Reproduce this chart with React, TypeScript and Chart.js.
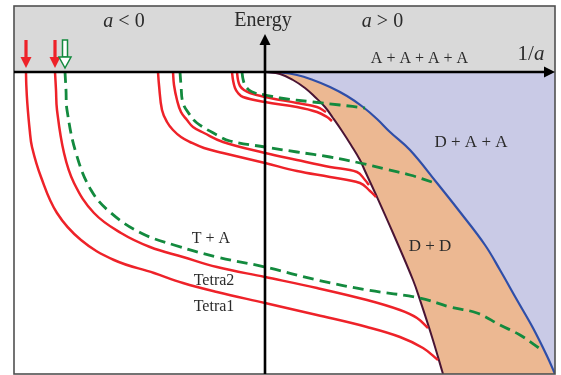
import { useEffect, useRef } from "react";
import { Chart, registerables } from "chart.js";

Chart.register(...registerables);

// ---- axis ranges (x = 1/a, y = energy; arbitrary units) ----
const X_MIN = -25.1;
const X_MAX = 29.0;
const Y_MIN = -30.2;
const Y_MAX = 6.6;
const ENERGY_ARROW_TIP = 3.8;

// ---- curves: [1/a, energy] ----
const tetra1 = [[-23.9,0],[-23.87,-1.3],[-23.77,-3.1],[-23.53,-5.8],[-23.3,-7.5],[-22.4,-10.5],[-20.8,-14.1],[-18.4,-16.8],[-15.1,-18.8],[-11.1,-20.1],[-8.2,-21.1],[-4.8,-22.0],[0,-23.1],[5.2,-24.3],[10.2,-25.5],[13.5,-26.5],[15.8,-27.6],[17.3,-28.8]];
const tetra2 = [[-21.0,0],[-20.9,-1.8],[-20.8,-3.8],[-20.1,-8.1],[-19.1,-11.1],[-17.1,-14.1],[-14.4,-16.1],[-11.5,-17.5],[-8.2,-18.5],[-4.8,-19.5],[0,-20.5],[5.2,-21.6],[10.2,-22.8],[13.5,-23.8],[15.2,-24.6],[16.3,-25.6]];
const trimer1 = [[-20.0,0],[-19.9,-1.8],[-19.8,-3.8],[-18.9,-8.1],[-17.4,-11.8],[-15.4,-14.1],[-12.4,-16.1],[-9.1,-17.3],[-4.8,-18.5],[0,-19.5],[5.2,-20.8],[10.2,-21.8],[15.5,-22.6],[18.5,-23.5],[21.2,-24.1],[23.5,-25.3],[25.5,-26.3],[27.4,-27.6]];

const tetra3 = [[-10.7,0],[-10.6,-1.3],[-10.3,-3.8],[-9.8,-5.0],[-9.2,-5.8],[-8.4,-6.5],[-7.5,-7.0],[-6.1,-7.6],[-4.2,-8.1],[0,-9.1],[3.2,-9.9],[6.5,-10.5],[9.5,-11.1],[10.5,-11.9],[11.1,-12.5]];
const tetra4 = [[-9.2,0],[-9.1,-1.3],[-8.8,-2.8],[-8.4,-4.0],[-7.8,-4.8],[-7.2,-5.5],[-6.1,-6.1],[-4.2,-7.0],[0,-8.1],[3.2,-8.8],[6.5,-9.5],[9.2,-10.0],[10.0,-10.8],[10.4,-11.3]];
const trimer2 = [[-8.5,0],[-8.4,-1.3],[-8.2,-3.1],[-7.5,-4.3],[-6.8,-5.1],[-4.8,-6.3],[-3.5,-6.9],[0,-7.5],[3.2,-8.0],[6.5,-8.5],[9.5,-9.1],[12.0,-9.7],[14.5,-10.3],[17.0,-11.1]];

const tetra5 = [[-3.3,0],[-3.2,-0.8],[-3.0,-1.6],[-2.7,-2.1],[-2.2,-2.5],[0,-3.0],[3.2,-3.5],[5.2,-4.0],[6.2,-4.5],[6.7,-4.9]];
const tetra6 = [[-2.8,0],[-2.7,-0.8],[-2.5,-1.4],[-2.1,-1.8],[-1.5,-2.1],[0,-2.5],[3.2,-3.1],[5.2,-3.5],[6.1,-4.0]];
const trimer3 = [[-2.3,0],[-2.2,-0.7],[-2.0,-1.3],[-1.6,-1.8],[-1.0,-2.1],[0,-2.3],[1.5,-2.6],[4.8,-3.0],[7.5,-3.3],[10.0,-3.6]];

// thresholds
const dimerDimer = [[0,0],[1.5,-0.2],[2.8,-0.8],[4.0,-1.6],[5.0,-2.5],[6.0,-3.5],[6.8,-4.6],[7.7,-5.9],[8.6,-7.3],[9.5,-8.8],[10.0,-9.9],[11.2,-12.5],[12.8,-16.1],[14.8,-20.8],[15.5,-22.8],[16.7,-26.5],[17.8,-30.2]];
const dimerAtomAtom = [[0,0],[1.5,-0.05],[3.2,-0.3],[4.8,-0.8],[6.5,-1.5],[8.2,-2.4],[9.8,-3.5],[11.2,-4.7],[12.5,-6.0],[14.5,-7.8],[17.2,-11.1],[19.5,-14.0],[22.0,-17.3],[23.5,-19.8],[25.2,-22.8],[26.8,-25.6],[28.2,-28.4],[29.0,-30.2]];

// markers (threshold arrows on the a<0 side), at the x where curves start
const redMarkers = [tetra1[0][0], tetra2[0][0]];
const greenMarkers = [trimer1[0][0]];
const MARK_TOP = 3.2, MARK_HEAD = 1.5, MARK_TIP = 0.4;

// labels ("_" marks the next character as italic)
const labelText = ["_a < 0", "Energy", "_a > 0", "A + A + A + A", "1/_a", "D + A + A", "D + D", "T + A", "Tetra2", "Tetra1"];
const labelX = [-14.1, -0.2, 11.75, 15.45, 26.6, 20.6, 16.5, -5.4, -5.1, -5.1];
const labelY = [4.5, 4.6, 4.5, 0.9, 1.2, -7.5, -17.9, -17.1, -21.3, -23.9];
const labelSize = [20, 20, 20, 16, 21, 17, 17, 16, 16, 16];

const RED = "#ee2229";
const GREEN = "#138a3e";
const DARK = "#4a1434";
const BLUE = "#2f4ea8";
const ORANGE = "#ecb892";
const PURPLE = "#c9cae6";
const GRAY = "#d9d9d9";
const TEXT = "#2b2b2b";
const FONT = '"Liberation Serif", "Times New Roman", serif';

const toPts = (a: number[][]) => a.map(([x, y]) => ({ x, y }));

function parseRich(s: string) {
  const parts: { t: string; i: boolean }[] = [];
  let buf = "";
  for (let k = 0; k < s.length; k++) {
    if (s[k] === "_" && k + 1 < s.length) {
      if (buf) parts.push({ t: buf, i: false });
      buf = "";
      parts.push({ t: s[k + 1], i: true });
      k++;
    } else buf += s[k];
  }
  if (buf) parts.push({ t: buf, i: false });
  return parts;
}

const diagramPlugin = {
  id: "diagram",
  beforeDatasetsDraw(chart: any) {
    const { ctx, chartArea: ca, scales } = chart;
    const Y = (v: number) => scales.y.getPixelForValue(v);
    ctx.save();
    ctx.fillStyle = GRAY;
    ctx.fillRect(ca.left, ca.top, ca.right - ca.left, Y(0) - ca.top);
    ctx.restore();
  },
  afterDatasetsDraw(chart: any) {
    const { ctx, chartArea: ca, scales } = chart;
    const X = (v: number) => scales.x.getPixelForValue(v);
    const Y = (v: number) => scales.y.getPixelForValue(v);
    ctx.save();

    // frame
    ctx.strokeStyle = "#505050";
    ctx.lineWidth = 1.6;
    ctx.strokeRect(ca.left, ca.top, ca.right - ca.left, ca.bottom - ca.top);

    // axes
    ctx.strokeStyle = "#000";
    ctx.fillStyle = "#000";
    ctx.lineWidth = 2.6;
    const y0 = Y(0), x0 = X(0);
    const xTip = X(X_MAX), yTip = Y(ENERGY_ARROW_TIP);
    ctx.beginPath();
    ctx.moveTo(ca.left, y0);
    ctx.lineTo(xTip - 8, y0);
    ctx.stroke();
    ctx.beginPath();
    ctx.moveTo(x0, ca.bottom);
    ctx.lineTo(x0, yTip + 8);
    ctx.stroke();
    ctx.beginPath();
    ctx.moveTo(xTip, y0);
    ctx.lineTo(xTip - 11, y0 - 5.5);
    ctx.lineTo(xTip - 11, y0 + 5.5);
    ctx.closePath();
    ctx.fill();
    ctx.beginPath();
    ctx.moveTo(x0, yTip);
    ctx.lineTo(x0 - 5.5, yTip + 11);
    ctx.lineTo(x0 + 5.5, yTip + 11);
    ctx.closePath();
    ctx.fill();

    // threshold markers
    const yt = Y(MARK_TOP), yh = Y(MARK_HEAD), yp = Y(MARK_TIP);
    ctx.fillStyle = RED;
    redMarkers.forEach((v) => {
      const x = X(v);
      ctx.fillRect(x - 1.6, yt, 3.2, yh - yt + 1);
      ctx.beginPath();
      ctx.moveTo(x - 5.5, yh);
      ctx.lineTo(x + 5.5, yh);
      ctx.lineTo(x, yp);
      ctx.closePath();
      ctx.fill();
    });
    ctx.strokeStyle = GREEN;
    ctx.fillStyle = "#fff";
    ctx.lineWidth = 1.5;
    greenMarkers.forEach((v) => {
      const x = X(v);
      ctx.fillRect(x - 2.5, yt, 5, yh - yt);
      ctx.strokeRect(x - 2.5, yt, 5, yh - yt);
      ctx.beginPath();
      ctx.moveTo(x - 6, yh);
      ctx.lineTo(x + 6, yh);
      ctx.lineTo(x, yp);
      ctx.closePath();
      ctx.fill();
      ctx.stroke();
    });

    // labels
    ctx.fillStyle = TEXT;
    ctx.textBaseline = "alphabetic";
    ctx.textAlign = "left";
    labelText.forEach((s, k) => {
      const parts = parseRich(s);
      const size = labelSize[k];
      const fonts = parts.map((p) => `${p.i ? "italic " : ""}${size}px ${FONT}`);
      const widths = parts.map((p, j) => {
        ctx.font = fonts[j];
        return ctx.measureText(p.t).width;
      });
      const total = widths.reduce((a, b) => a + b, 0);
      let x = X(labelX[k]) - total / 2;
      const by = Y(labelY[k]);
      parts.forEach((p, j) => {
        ctx.font = fonts[j];
        ctx.fillText(p.t, x, by);
        x += widths[j];
      });
    });
    ctx.restore();
  },
};

export default function App() {
  const ref = useRef<HTMLCanvasElement | null>(null);
  useEffect(() => {
    if (!ref.current) return;
    const curve = (data: number[][], color: string, dashed: boolean, order: number) => ({
      data: toPts(data),
      borderColor: color,
      borderWidth: dashed ? 2.8 : 2.5,
      borderDash: dashed ? [11, 6] : [],
      fill: false,
      tension: 0.4,
      pointRadius: 0,
      order,
    });
    const chart = new Chart(ref.current, {
      type: "line",
      data: {
        datasets: [
          // D + D region: below the D+A+A threshold ...
          { data: toPts(dimerAtomAtom), borderColor: "transparent", borderWidth: 0, backgroundColor: ORANGE, fill: { value: Y_MIN }, tension: 0.4, pointRadius: 0, order: 100 },
          // ... but right of the D+D threshold
          { data: toPts(dimerDimer), borderColor: "transparent", borderWidth: 0, backgroundColor: "#ffffff", fill: { value: Y_MIN }, tension: 0.4, pointRadius: 0, order: 99 },
          // D + A + A region
          { data: toPts(dimerAtomAtom), borderColor: BLUE, borderWidth: 2.2, backgroundColor: PURPLE, fill: { value: 0 }, tension: 0.4, pointRadius: 0, order: 98 },
          { data: toPts(dimerDimer), borderColor: DARK, borderWidth: 2, fill: false, tension: 0.4, pointRadius: 0, order: 97 },
          curve(tetra1, RED, false, 10),
          curve(tetra2, RED, false, 9),
          curve(trimer1, GREEN, true, 8),
          curve(tetra3, RED, false, 7),
          curve(tetra4, RED, false, 6),
          curve(trimer2, GREEN, true, 5),
          curve(tetra5, RED, false, 4),
          curve(tetra6, RED, false, 3),
          curve(trimer3, GREEN, true, 2),
        ] as any,
      },
      options: {
        animation: false,
        responsive: false,
        devicePixelRatio: 1,
        events: [],
        layout: { padding: { left: 14, top: 6, right: 6, bottom: 1 } },
        plugins: { legend: { display: false }, tooltip: { enabled: false } },
        scales: {
          x: { type: "linear", min: X_MIN, max: X_MAX, display: false },
          y: { type: "linear", min: Y_MIN, max: Y_MAX, display: false },
        },
      },
      plugins: [diagramPlugin],
    });
    return () => chart.destroy();
  }, []);
  return (
    <div style={{ position: "absolute", left: 0, top: 0, width: 561, height: 375, background: "#fff" }}>
      <canvas ref={ref} width={561} height={375} style={{ display: "block" }} />
    </div>
  );
}
